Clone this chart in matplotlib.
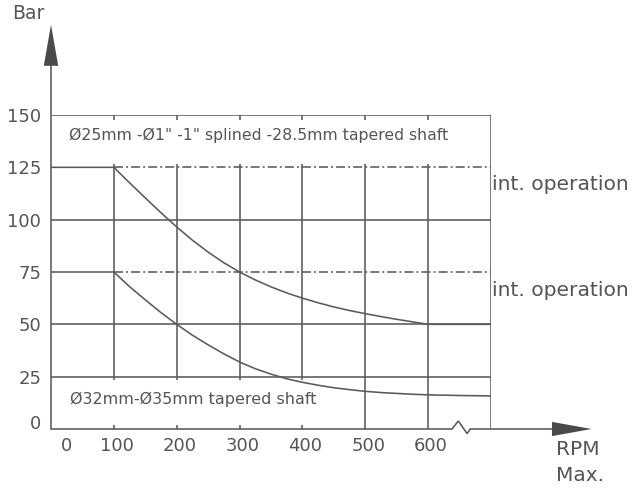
import matplotlib
matplotlib.use("Agg")
import matplotlib.pyplot as plt
from matplotlib.patches import Polygon, Rectangle
from matplotlib.transforms import ScaledTranslation

plt.rcParams['font.family'] = ['DejaVu Sans']
plt.rcParams['lines.scale_dashes'] = False

# ---- data ----
rpm_grid = [100, 200, 300, 400, 500, 600, 700]
bar_grid = [25, 50, 100, 150]
int_levels = [125, 75]

upper_rpm = [0, 100, 125, 150, 175, 200, 225, 250, 275, 300, 325, 350, 375, 400,
             425, 450, 475, 500, 525, 550, 575, 600, 700]
upper_bar = [125, 125, 117.6, 110.4, 103.3, 96.5, 90.2, 84.5, 79.4, 75, 71.2, 67.9, 65, 62.5,
             60.3, 58.3, 56.6, 55.1, 53.7, 52.4, 51.2, 50, 50]
lower_rpm = [0, 100, 125, 150, 175, 200, 225, 250, 275, 300, 325, 350, 375, 400,
             425, 450, 475, 500, 525, 550, 575, 600, 650, 700]
lower_bar = [75, 75, 68, 61.7, 55.6, 50, 44.8, 40.2, 35.9, 32, 28.8, 26.2, 24, 22.3,
             20.9, 19.7, 18.8, 18, 17.4, 17, 16.6, 16.3, 16, 15.8]

xtick_pos = [20, 100, 200, 300, 400, 500, 600]
xtick_labels = ["0", "100", "200", "300", "400", "500", "600"]
ytick_pos = [3.3, 25, 50, 75, 100, 125, 150]
ytick_labels = ["0", "25", "50", "75", "100", "125", "150"]

upper_label = 'Ø25mm -Ø1" -1" splined -28.5mm tapered shaft'
lower_label = 'Ø32mm-Ø35mm tapered shaft'
int_label = 'int. operation'

LC = '#5a5a5a'
TC = '#555555'
AC = '#4a4a4a'
LW = 1.15

fig = plt.figure(figsize=(6.37, 4.90), dpi=100)
ax = fig.add_axes([51/637, 61/490, 440/637, 314/490])
ax.set_xlim(0, 700)
ax.set_ylim(0, 150)
for s in ax.spines.values():
    s.set_visible(False)
ax.patch.set_visible(False)

# grid
for x in rpm_grid:
    ax.plot([x, x], [0, 150], color=LC, lw=LW, zorder=1, solid_capstyle='butt')
for y in bar_grid:
    ax.plot([0, 700], [y, y], color=LC, lw=LW, zorder=1, solid_capstyle='butt')
for y in int_levels:
    ax.plot([100, 700], [y, y], color=LC, lw=LW, zorder=1,
            linestyle=(0, (6.5, 2.2, 1.4, 2.2)))

# white boxes behind labels
ax.add_patch(Rectangle((14, 126.6), 636, 21.1, facecolor='white', edgecolor='none', zorder=2))
ax.add_patch(Rectangle((10, 2.0), 430, 21.4, facecolor='white', edgecolor='none', zorder=2))

# curves
ax.plot(upper_rpm, upper_bar, color=LC, lw=LW, zorder=3)
ax.plot(lower_rpm, lower_bar, color=LC, lw=LW, zorder=3)

# axes lines
ax.plot([0, 0], [0, 175], color=LC, lw=LW, zorder=4, clip_on=False, solid_capstyle='butt')
ax.plot([0, 638, 648, 662, 667, 800], [0, 0, 3.8, -2.2, 0, 0], color=LC, lw=LW,
        zorder=4, clip_on=False, solid_joinstyle='miter')
ax.add_patch(Polygon([[-11.5, 173.5], [11.5, 173.5], [0, 193.1]], closed=True,
                     facecolor=AC, edgecolor='none', zorder=5, clip_on=False))
ax.add_patch(Polygon([[797, 3.4], [797, -3.4], [860, 0]], closed=True,
                     facecolor=AC, edgecolor='none', zorder=5, clip_on=False))

# ticks
ax.set_xticks(xtick_pos)
ax.set_xticklabels(xtick_labels)
ax.set_yticks(ytick_pos)
ax.set_yticklabels(ytick_labels)
ax.tick_params(axis='both', length=0, labelsize=13, labelcolor=TC)
ax.tick_params(axis='x', pad=6)
ax.tick_params(axis='y', pad=7)
off = ScaledTranslation(3/100, 0, fig.dpi_scale_trans)
for lbl in ax.get_xticklabels():
    lbl.set_transform(lbl.get_transform() + off)

# texts
ax.text(330, 140.5, upper_label, ha='center', va='center', fontsize=11.3, color=TC, zorder=6)
ax.text(227, 14.3, lower_label, ha='center', va='center', fontsize=11.5, color=TC, zorder=6)
for y in [116.6, 66.4]:
    ax.text(702, y, int_label, ha='left', va='center', fontsize=14.6, color=TC, clip_on=False)
ax.text(-62, 198.4, 'Bar', ha='left', va='center', fontsize=13.5, color=TC, clip_on=False)
ax.text(803, -10, 'RPM', ha='left', va='center', fontsize=14.5, color=TC, clip_on=False)
ax.text(803, -22, 'Max.', ha='left', va='center', fontsize=14.5, color=TC, clip_on=False)

fig.savefig('out.png', dpi=100)
